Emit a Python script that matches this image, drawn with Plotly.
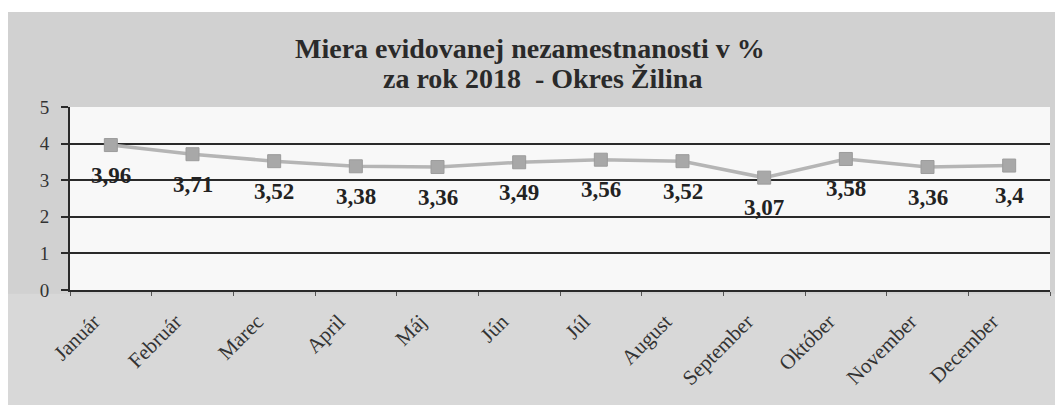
import plotly.graph_objects as go

months = ["Január", "Február", "Marec", "April", "Máj", "Jún", "Júl",
          "August", "September", "Október", "November", "December"]
values = [3.96, 3.71, 3.52, 3.38, 3.36, 3.49, 3.56, 3.52, 3.07, 3.58, 3.36, 3.4]
y_ticks = [0, 1, 2, 3, 4, 5]
title_line1 = "Miera evidovanej nezamestnanosti v %"
title_line2 = "za rok 2018  - Okres Žilina"

FONT = "Liberation Serif"

def fmt(v):
    s = ("%.2f" % v).rstrip("0").rstrip(".")
    return s.replace(".", ",")

fig = go.Figure()
fig.add_trace(go.Scatter(
    x=months, y=values, mode="lines+markers",
    line=dict(color="#b5b5b5", width=3.5),
    marker=dict(symbol="square", size=13, color="#a8a8a8",
                line=dict(color="#9c9c9c", width=1)),
    showlegend=False, hoverinfo="skip",
))

annotations = []
for m, v in zip(months, values):
    annotations.append(dict(
        x=m, y=v, xref="x", yref="y", text="<b>%s</b>" % fmt(v), showarrow=False,
        yshift=-30, yanchor="middle", xanchor="center",
        font=dict(family=FONT, size=23, color="#222222"),
    ))
annotations.append(dict(
    x=(530 - 70) / 980, y=(290 - 48) / 183, xref="paper", yref="paper",
    text="<b>%s</b>" % title_line1, showarrow=False,
    xanchor="center", yanchor="middle",
    font=dict(family=FONT, size=28, color="#2a2a2a"),
))
annotations.append(dict(
    x=(542 - 70) / 980, y=(290 - 78) / 183, xref="paper", yref="paper",
    text="<b>%s</b>" % title_line2, showarrow=False,
    xanchor="center", yanchor="middle",
    font=dict(family=FONT, size=28, color="#2a2a2a"),
))

shapes = [
    dict(type="rect", xref="paper", yref="paper", layer="below",
         x0=-0.1, x1=1.1, y0=-1.0, y1=-0.02,
         fillcolor="#d8d8d8", line=dict(width=0)),
    dict(type="rect", xref="paper", yref="paper", layer="above",
         x0=-0.2, x1=1.2, y0=(290 - 12) / 183, y1=2.0,
         fillcolor="#ffffff", line=dict(width=0)),
    dict(type="rect", xref="paper", yref="paper", layer="above",
         x0=(1056 - 70) / 980, x1=1.2, y0=-1.0, y1=2.0,
         fillcolor="#f4f4f4", line=dict(width=0)),
]

fig.update_layout(
    width=1055, height=397,
    margin=dict(l=62, r=13, t=99, b=115),
    paper_bgcolor="#d1d1d1",
    plot_bgcolor="#f8f8f8",
    annotations=annotations,
    shapes=shapes,
    font=dict(family=FONT, color="#333333"),
)
fig.update_xaxes(
    type="category", range=[-0.5, len(months) - 0.5],
    tickson="boundaries", automargin=False,
    ticks="outside", ticklen=4, tickwidth=1, tickcolor="#555555",
    tickangle=-45, tickfont=dict(family=FONT, size=21, color="#333333"),
    ticklabelshift=-17, ticklabelstandoff=9,
    showline=True, linecolor="#2a2a2a", linewidth=2,
    showgrid=False, zeroline=False,
)
fig.update_yaxes(
    range=[0, 5], tickvals=y_ticks, ticktext=[str(t) for t in y_ticks],
    automargin=False,
    ticks="outside", ticklen=7, tickwidth=2, tickcolor="#2a2a2a",
    tickfont=dict(family=FONT, size=19, color="#333333"),
    ticklabelstandoff=8,
    showline=True, linecolor="#2a2a2a", linewidth=2,
    showgrid=True, gridcolor="#2a2a2a", gridwidth=2,
    zeroline=False,
)

fig.write_html("out.html")
